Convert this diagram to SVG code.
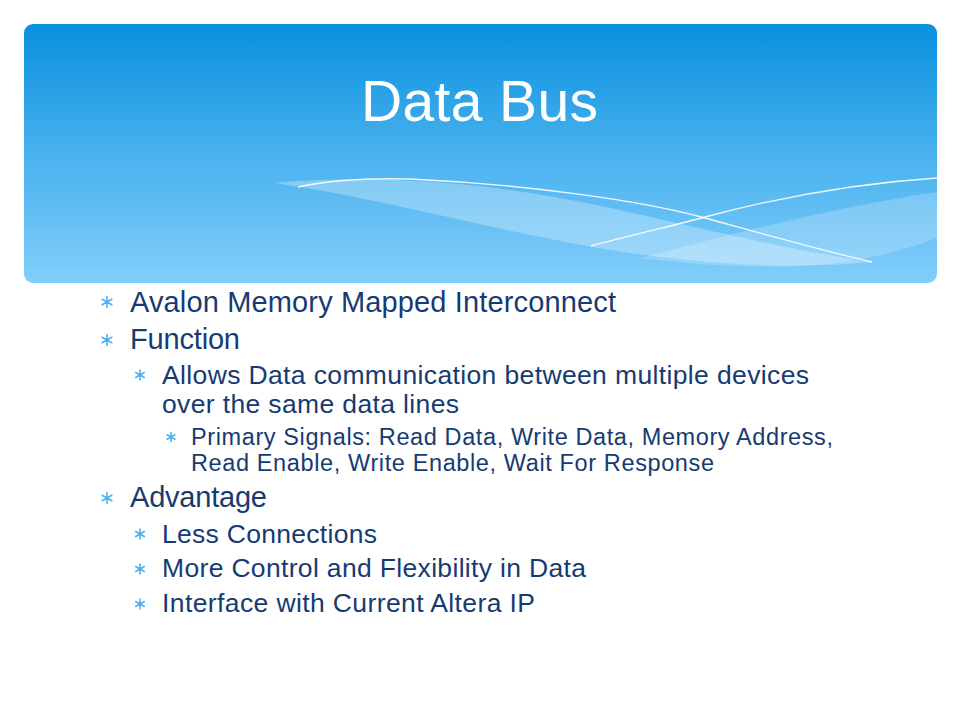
<svg xmlns="http://www.w3.org/2000/svg" width="960" height="720" viewBox="0 0 960 720">
  <defs>
    <linearGradient id="hdr" x1="0" y1="0" x2="0" y2="1">
      <stop offset="0" stop-color="#0990de"/>
      <stop offset="0.5" stop-color="#48b1ee"/>
      <stop offset="1" stop-color="#82cefa"/>
    </linearGradient>
    <g id="b1"><path d="M0,-5.5 V5.5 M-4.8,-2.75 L4.8,2.75 M-4.8,2.75 L4.8,-2.75" /></g>
    <g id="b2"><path d="M0,-5 V5 M-4.3,-2.5 L4.3,2.5 M-4.3,2.5 L4.3,-2.5" /></g>
    <g id="b3"><path d="M0,-4.5 V4.5 M-3.9,-2.25 L3.9,2.25 M-3.9,2.25 L3.9,-2.25" /></g>
  </defs>
  <style>
    .t { font-family: "Liberation Sans", Arial, sans-serif; fill: #163b72; }
    .l1 { font-size: 29px; }
    .l2 { font-size: 26.5px; }
    .l3 { font-size: 23.5px; }
    .title { font-family: "Liberation Sans", Arial, sans-serif; font-size: 57px; fill: #ffffff; }
    .bul { stroke: #4fb0ee; stroke-width: 1.6; fill: none; stroke-linecap: round; }
    .wl { stroke: #ffffff; stroke-width: 1.3; fill: none; opacity: 0.9; }
  </style>
  <rect width="960" height="720" fill="#ffffff"/>
  <g id="header">
    <rect x="24" y="24" width="913" height="259" rx="9" ry="9" fill="url(#hdr)"/>
    <path d="M275,183 C350,176 450,178 560,198 C650,214 760,246 872,262 C790,270 700,264 610,250 C490,230 380,198 275,183 Z" fill="#ffffff" opacity="0.28"/>
    <path d="M640,258 C740,232 840,206 937,192 L937,238 C900,252 860,262 800,266 C740,268 690,264 640,258 Z" fill="#ffffff" opacity="0.2"/>
    <path class="wl" d="M298,187 C330,180 370,178 410,179 C520,184 640,200 705,218 C760,233 820,250 872,262"/>
    <path class="wl" d="M591,246 C640,233 680,224 705,217 C780,197 860,183 937,178"/>
    <text class="title" x="361" y="121" textLength="237" lengthAdjust="spacing">Data Bus</text>
  </g>
  <g id="bullets" class="bul">
    <use href="#b1" x="107" y="302"/>
    <use href="#b1" x="107" y="340"/>
    <use href="#b2" x="140" y="375"/>
    <use href="#b3" x="171" y="437"/>
    <use href="#b1" x="107" y="498"/>
    <use href="#b2" x="140" y="534"/>
    <use href="#b2" x="140" y="569"/>
    <use href="#b2" x="140" y="604"/>
  </g>
  <g id="body">
    <text class="t l1" x="130" y="312" textLength="486" lengthAdjust="spacing">Avalon Memory Mapped Interconnect</text>
    <text class="t l1" x="130" y="349" textLength="110" lengthAdjust="spacing">Function</text>
    <text class="t l2" x="162" y="384" textLength="647" lengthAdjust="spacing">Allows Data communication between multiple devices</text>
    <text class="t l2" x="162" y="413" textLength="297" lengthAdjust="spacing">over the same data lines</text>
    <text class="t l3" x="191" y="445" textLength="642" lengthAdjust="spacing">Primary Signals: Read Data, Write Data, Memory Address,</text>
    <text class="t l3" x="191" y="471" textLength="523" lengthAdjust="spacing">Read Enable, Write Enable, Wait For Response</text>
    <text class="t l1" x="130" y="507" textLength="137" lengthAdjust="spacing">Advantage</text>
    <text class="t l2" x="162" y="543" textLength="215" lengthAdjust="spacing">Less Connections</text>
    <text class="t l2" x="162" y="577" textLength="424" lengthAdjust="spacing">More Control and Flexibility in Data</text>
    <text class="t l2" x="162" y="612" textLength="373" lengthAdjust="spacing">Interface with Current Altera IP</text>
  </g>
</svg>
